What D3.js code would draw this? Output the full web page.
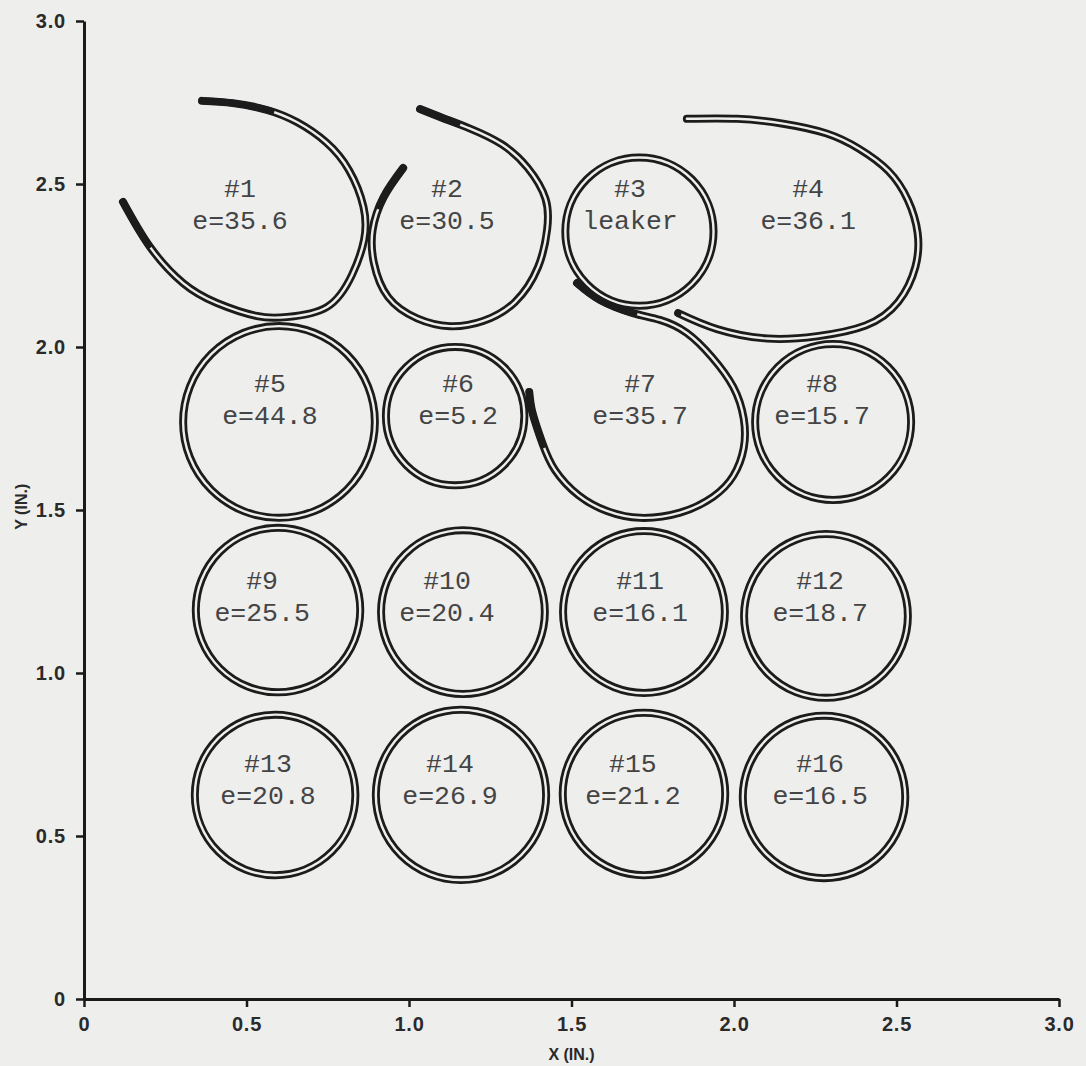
<!DOCTYPE html>
<html>
<head>
<meta charset="utf-8">
<script src="https://cdn.jsdelivr.net/npm/d3@7/dist/d3.min.js"></script>
<style>
  html, body { margin: 0; padding: 0; background: #eeeeec; }
  svg { display: block; }
  .tick text { font-family: "Liberation Sans", Arial, sans-serif; font-weight: bold; font-size: 20px; fill: #2a2a2a; letter-spacing: 0.8px; }
  .lbl { font-family: "Liberation Mono", "DejaVu Sans Mono", monospace; font-size: 26.5px; fill: #444; }
  .axtitle { font-family: "Liberation Sans", Arial, sans-serif; font-weight: bold; font-size: 16px; fill: #2a2a2a; }
</style>
</head>
<body>
<svg id="chart"></svg>
<script>
// GLOBALS
var w = 1086, h = 1066;

// specimen labels (row by row, top left to bottom right)
var specimens = ["#1","#2","#3","#4","#5","#6","#7","#8","#9","#10","#11","#12","#13","#14","#15","#16"];
var strains = ["e=35.6","e=30.5","leaker","e=36.1","e=44.8","e=5.2","e=35.7","e=15.7",
               "e=25.5","e=20.4","e=16.1","e=18.7","e=20.8","e=26.9","e=21.2","e=16.5"];
// label centre of each specimen (in.)
var labelX = [0.48, 1.117, 1.68, 2.228, 0.572, 1.151, 1.711, 2.271, 0.548, 1.117, 1.711, 2.265, 0.566, 1.126, 1.689, 2.265];
var labelY = [2.433, 2.433, 2.433, 2.433, 1.834, 1.834, 1.834, 1.834, 1.23, 1.23, 1.23, 1.23, 0.669, 0.669, 0.669, 0.669];

// closed rings: centre and radius (in.)
var ringId = ["#3","#5","#6","#8","#9","#10","#11","#12","#13","#14","#15","#16"];
var ringX  = [1.709, 0.600, 1.142, 2.305, 0.597, 1.166, 1.723, 2.283, 0.588, 1.160, 1.723, 2.277];
var ringY  = [2.354, 1.770, 1.788, 1.770, 1.193, 1.187, 1.187, 1.175, 0.626, 0.626, 0.629, 0.620];
var ringR  = [0.228, 0.295, 0.213, 0.240, 0.253, 0.252, 0.249, 0.252, 0.247, 0.262, 0.250, 0.250];

// open (spiralled) tubes (in.)
var spiral1 = [[0.12,2.445],[0.203,2.307],[0.305,2.196],[0.409,2.135],[0.532,2.095],[0.625,2.092],
  [0.748,2.123],[0.825,2.222],[0.862,2.33],[0.86,2.43],[0.815,2.543],[0.745,2.628],[0.655,2.69],
  [0.563,2.727],[0.458,2.748],[0.363,2.755]];
var spiral2 = [[0.982,2.549],[0.922,2.46],[0.888,2.359],[0.892,2.258],[0.936,2.153],[1.025,2.088],
  [1.126,2.064],[1.228,2.08],[1.326,2.138],[1.397,2.245],[1.425,2.36],[1.42,2.455],[1.365,2.55],
  [1.285,2.622],[1.188,2.67],[1.105,2.702],[1.034,2.73]];
var spiral4 = [[1.828,2.104],[1.948,2.055],[2.102,2.026],[2.255,2.033],[2.405,2.066],[2.505,2.138],
  [2.558,2.245],[2.565,2.35],[2.535,2.451],[2.475,2.54],[2.385,2.608],[2.285,2.655],[2.151,2.685],
  [2.009,2.7],[1.855,2.7]];
var spiral7 = [[1.517,2.196],[1.588,2.144],[1.689,2.104],[1.772,2.083],[1.855,2.043],[1.932,1.969],
  [1.998,1.877],[2.03,1.78],[2.03,1.69],[1.998,1.605],[1.935,1.54],[1.834,1.492],[1.711,1.476],
  [1.609,1.497],[1.522,1.545],[1.449,1.623],[1.41,1.706],[1.38,1.798],[1.37,1.862]];

var xTicks = [0, 0.5, 1.0, 1.5, 2.0, 2.5, 3.0];
var yTicks = [0, 0.5, 1.0, 1.5, 2.0, 2.5, 3.0];

var svg = d3.select("#chart").attr("width", w).attr("height", h);

var x = d3.scaleLinear().domain([0, 3]).range([84, 1059]);
var y = d3.scaleLinear().domain([0, 3]).range([999, 21]);

function fmt(d) { return d === 0 ? "0" : d3.format(".1f")(d); }

// axes
var xAxis = svg.append("g")
  .attr("transform", "translate(0," + y(0) + ")")
  .call(d3.axisBottom(x).tickValues(xTicks).tickFormat(fmt).tickSize(8).tickSizeOuter(0).tickPadding(7));
var yAxis = svg.append("g")
  .attr("transform", "translate(" + x(0) + ",0)")
  .call(d3.axisLeft(y).tickValues(yTicks).tickFormat(fmt).tickSize(8).tickSizeOuter(0).tickPadding(10));

[xAxis, yAxis].forEach(function(a) {
  a.select(".domain").attr("stroke", "#1a1a1a").attr("stroke-width", 3);
  a.selectAll(".tick line").attr("stroke", "#1a1a1a").attr("stroke-width", 2.5);
});
xAxis.selectAll(".tick text").attr("dy", "0.85em");

svg.append("text").attr("class", "axtitle")
  .attr("x", x(1.5)).attr("y", 1060).attr("text-anchor", "middle")
  .text("X (IN.)");
svg.append("text").attr("class", "axtitle")
  .attr("transform", "translate(27," + y(1.51) + ") rotate(-90)")
  .attr("text-anchor", "middle")
  .text("Y (IN.)");

// tubes: dark thick stroke with a thin light core -> double wall
var tubes = svg.append("g");
var line = d3.line()
  .x(function(d) { return x(d[0]); })
  .y(function(d) { return y(d[1]); })
  .curve(d3.curveNatural);

var spirals = [spiral1, spiral2, spiral4, spiral7];
// heavy (filled-in) ink at start / end of each spiral, as length in px
var heavyStart = [50, 45, 0, 65];
var heavyEnd = [70, 40, 0, 55];

function drawTubes(color, width) {
  tubes.selectAll(null)
    .data(spirals).enter().append("path")
      .attr("d", line)
      .attr("fill", "none")
      .attr("stroke", color)
      .attr("stroke-width", width)
      .attr("stroke-linecap", "round");
  tubes.selectAll(null)
    .data(ringX).enter().append("circle")
      .attr("cx", function(d) { return x(d); })
      .attr("cy", function(d, i) { return y(ringY[i]); })
      .attr("r", function(d, i) { return x(ringR[i]) - x(0); })
      .attr("fill", "none")
      .attr("stroke", color)
      .attr("stroke-width", width);
}
drawTubes("#1c1c1c", 8);
drawTubes("#eeeeec", 2.4);

// heavier ink at the free ends of the spirals, along the same curve
tubes.selectAll(null)
  .data(spirals).enter().append("path")
    .attr("d", line)
    .attr("fill", "none")
    .attr("stroke", "#1c1c1c")
    .attr("stroke-width", 7)
    .attr("stroke-linecap", "round")
    .attr("stroke-dasharray", function(d, i) {
      var len = this.getTotalLength();
      var mid = len - heavyStart[i] - heavyEnd[i];
      return heavyStart[i] + " " + mid + " " + (heavyEnd[i] || 0.001) + " 0";
    });

// labels
var lbl = svg.append("g").selectAll("g")
  .data(specimens).enter().append("g")
    .attr("transform", function(d, i) { return "translate(" + x(labelX[i]) + "," + y(labelY[i]) + ")"; });
lbl.append("text").attr("class", "lbl")
  .attr("text-anchor", "middle").attr("y", -16).attr("dominant-baseline", "central")
  .text(function(d) { return d; });
lbl.append("text").attr("class", "lbl")
  .attr("text-anchor", "middle").attr("y", 16).attr("dominant-baseline", "central")
  .text(function(d, i) { return strains[i]; });
</script>
</body>
</html>
